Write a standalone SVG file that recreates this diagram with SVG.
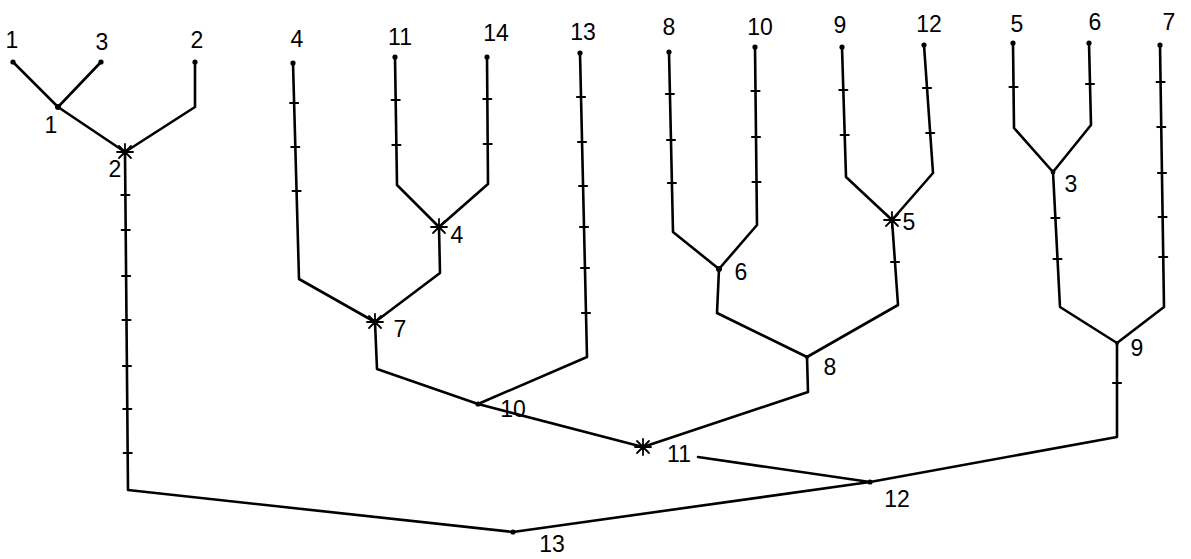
<svg xmlns="http://www.w3.org/2000/svg" width="1191" height="559" viewBox="0 0 1191 559">
<style>
.ln{fill:none;stroke:#000;stroke-width:2.6;stroke-linejoin:round;stroke-linecap:round}
.tk{fill:none;stroke:#000;stroke-width:2.2;stroke-linecap:round}
.st{fill:none;stroke:#000;stroke-width:1.8;stroke-linecap:round}
.dot{fill:#000}
text{font-family:"Liberation Sans","DejaVu Sans",sans-serif;font-size:23px;fill:#000;text-anchor:middle}
</style>
<defs>
<g id="star"><path class="st" d="M-8,0 H8 M0,-8 V8 M-6,-6 L6,6 M-6,6 L6,-6"/></g>
</defs>
<rect width="1191" height="559" fill="#fff"/>
<g id="connectors">
<path class="ln" d="M13,62 L58,107"/>
<path class="ln" d="M101,62 L58,107"/>
<path class="ln" d="M195,62 L195,107 L125,152"/>
<path class="ln" d="M58,107 L125,152"/>
<path class="ln" d="M125,152 L128,490 L513,532"/>
<path class="ln" d="M293,63 L299,279 L375,322"/>
<path class="ln" d="M395,57 L397,185 L439,227"/>
<path class="ln" d="M487,57 L488,184 L439,227"/>
<path class="ln" d="M439,227 L440,273 L375,322"/>
<path class="ln" d="M375,322 L377,369 L478,404"/>
<path class="ln" d="M580,53 L587,357 L478,404"/>
<path class="ln" d="M478,404 L643,447"/>
<path class="ln" d="M669,52 L673,232 L719,269"/>
<path class="ln" d="M755,47 L757,225 L719,269"/>
<path class="ln" d="M719,269 L717,313 L807,357"/>
<path class="ln" d="M842,47 L846,177 L892,220"/>
<path class="ln" d="M924,45 L933,173 L892,220"/>
<path class="ln" d="M892,220 L898,305 L807,357"/>
<path class="ln" d="M807,357 L808,392 L643,447"/>
<path class="ln" d="M698,457 L870,482"/>
<path class="ln" d="M1013,43 L1014,128 L1053,172"/>
<path class="ln" d="M1089,43 L1091,125 L1053,172"/>
<path class="ln" d="M1053,172 L1060,307 L1117,343"/>
<path class="ln" d="M1160,45 L1164,307 L1117,343"/>
<path class="ln" d="M1117,343 L1117,437 L870,482"/>
<path class="ln" d="M870,482 L513,532"/>
<path class="tk" d="M121.4,195 h8 M121.7,230 h8 M122.1,276 h8 M122.5,320 h8 M122.9,366 h8 M123.3,409 h8 M123.7,453 h8
M290.1,103 h8 M291.3,147 h8 M292.6,191 h8
M391.7,100 h8 M392.4,145 h8
M483.3,99 h8 M483.7,144 h8
M577,97 h8 M578,142 h8 M579.1,186 h8 M580,227 h8 M581,268 h8 M582,313 h8
M665.9,94 h8 M667,140 h8 M667.9,183 h8
M751.5,91 h8 M752,137 h8 M752.5,182 h8
M839.3,90 h8 M840.7,135 h8
M923,88 h8 M926.2,133 h8
M891,262 h8
M1009.5,87 h8 M1086,84 h8
M1051.4,218 h8 M1053.5,259 h8
M1156.6,82 h8 M1157.3,127 h8 M1158,173 h8 M1158.6,217 h8 M1159.2,257 h8
M1113,383 h8"/>
</g>
<g id="leaf-1"><circle class="dot" cx="13" cy="62" r="2.6"/><text x="12" y="48">1</text></g>
<g id="leaf-3"><circle class="dot" cx="101" cy="62" r="2.6"/><text x="102" y="50">3</text></g>
<g id="leaf-2"><circle class="dot" cx="195" cy="62" r="2.6"/><text x="197" y="48">2</text></g>
<g id="leaf-4"><circle class="dot" cx="293" cy="63" r="2.6"/><text x="297" y="47">4</text></g>
<g id="leaf-11"><circle class="dot" cx="395" cy="57" r="2.6"/><text x="400" y="45">11</text></g>
<g id="leaf-14"><circle class="dot" cx="487" cy="57" r="2.6"/><text x="496" y="41">14</text></g>
<g id="leaf-13"><circle class="dot" cx="580" cy="53" r="2.6"/><text x="583" y="40">13</text></g>
<g id="leaf-8"><circle class="dot" cx="669" cy="52" r="2.6"/><text x="669" y="35">8</text></g>
<g id="leaf-10"><circle class="dot" cx="755" cy="47" r="2.6"/><text x="760" y="35">10</text></g>
<g id="leaf-9"><circle class="dot" cx="842" cy="47" r="2.6"/><text x="840" y="33">9</text></g>
<g id="leaf-12"><circle class="dot" cx="924" cy="45" r="2.6"/><text x="929" y="32">12</text></g>
<g id="leaf-5"><circle class="dot" cx="1013" cy="43" r="2.6"/><text x="1017" y="32">5</text></g>
<g id="leaf-6"><circle class="dot" cx="1089" cy="43" r="2.6"/><text x="1095" y="30">6</text></g>
<g id="leaf-7"><circle class="dot" cx="1160" cy="45" r="2.6"/><text x="1169" y="30">7</text></g>
<g id="node-1"><circle class="dot" cx="58" cy="107" r="3"/><text x="51" y="133">1</text></g>
<g id="node-2"><use href="#star" x="125" y="152"/><text x="115" y="177">2</text></g>
<g id="node-4"><use href="#star" x="439" y="227"/><text x="457" y="243">4</text></g>
<g id="node-7"><use href="#star" x="375" y="322"/><text x="400" y="337">7</text></g>
<g id="node-10"><circle class="dot" cx="478" cy="404" r="2.6"/><text x="513" y="417">10</text></g>
<g id="node-11"><use href="#star" x="643" y="447"/><text x="679" y="462">11</text></g>
<g id="node-6"><circle class="dot" cx="719" cy="269" r="3"/><text x="741" y="280">6</text></g>
<g id="node-5"><use href="#star" x="892" y="220"/><text x="909" y="230">5</text></g>
<g id="node-8"><circle class="dot" cx="807" cy="357" r="2"/><text x="830" y="375">8</text></g>
<g id="node-3"><circle class="dot" cx="1053" cy="172" r="2.4"/><text x="1071" y="192">3</text></g>
<g id="node-9"><circle class="dot" cx="1117" cy="343" r="2"/><text x="1137" y="356">9</text></g>
<g id="node-12"><circle class="dot" cx="870" cy="482" r="2.6"/><text x="897" y="507">12</text></g>
<g id="node-13"><circle class="dot" cx="513" cy="532" r="2.6"/><text x="552" y="552">13</text></g>
</svg>
